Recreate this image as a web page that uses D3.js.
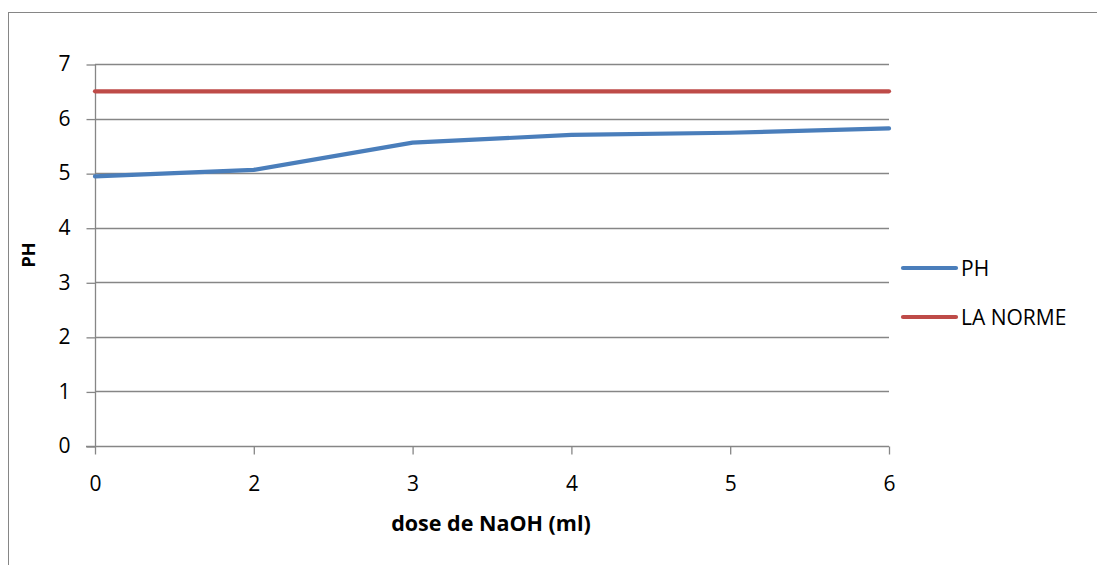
<!DOCTYPE html>
<html>
<head>
<meta charset="utf-8">
<script src="https://cdn.jsdelivr.net/npm/d3@7"></script>
<style>
  html, body { margin: 0; padding: 0; background: #fff; }
  svg { display: block; font-family: "Open Sans", "Liberation Sans", sans-serif; }
</style>
</head>
<body>
<svg id="chart" width="1097" height="565"></svg>
<script>
// Data
const doses = ["0", "2", "3", "4", "5", "6"];
const phValues = [4.94, 5.06, 5.56, 5.70, 5.74, 5.82];
const normeValues = [6.5, 6.5, 6.5, 6.5, 6.5, 6.5];
const yTicks = [0, 1, 2, 3, 4, 5, 6, 7];
const seriesNames = ["PH", "LA NORME"];
const seriesColors = ["#4A7EBB", "#BE4B48"];
const xTitle = "dose de NaOH (ml)";
const yTitle = "PH";

const svg = d3.select("#chart");
const W = 1097, H = 565;
const plot = { left: 95, right: 889, top: 64, bottom: 446 };
const FONT = "Open Sans, sans-serif";

// Outer frame
svg.append("rect")
  .attr("x", 8.5).attr("y", 12.5)
  .attr("width", W + 20).attr("height", H + 20)
  .attr("fill", "none").attr("stroke", "#868686").attr("stroke-width", 1);

const x = d3.scalePoint().domain(doses).range([plot.left, plot.right]);
const y = d3.scaleLinear().domain([0, 7]).range([plot.bottom, plot.top]);

// Gridlines
svg.append("g").selectAll("line").data(yTicks.filter(d => d > 0)).join("line")
  .attr("x1", plot.left).attr("x2", plot.right)
  .attr("y1", d => Math.round(y(d)) + 0.5).attr("y2", d => Math.round(y(d)) + 0.5)
  .attr("stroke", "#868686").attr("stroke-width", 1.3);

// Y axis
const yAxis = svg.append("g")
  .attr("transform", `translate(${plot.left + 0.5},0)`)
  .call(d3.axisLeft(y).tickValues(yTicks).tickSize(9).tickPadding(16).tickFormat(d3.format("d")));
yAxis.select(".domain").attr("stroke", "#868686").attr("stroke-width", 1.3)
  .attr("d", `M0,${plot.top}V${plot.bottom}`);
yAxis.selectAll(".tick line").attr("stroke", "#868686").attr("stroke-width", 1.3)
  .attr("transform", "translate(0,0.5)");
yAxis.selectAll("text").attr("font-size", 21).attr("fill", "#000")
  .attr("font-family", FONT);

// X axis
const xAxis = svg.append("g")
  .attr("transform", `translate(0,${plot.bottom + 0.5})`)
  .call(d3.axisBottom(x).tickSize(8).tickPadding(22));
xAxis.select(".domain").attr("stroke", "#868686").attr("stroke-width", 1.3)
  .attr("d", `M${plot.left - 9},0H${plot.right}`);
xAxis.selectAll(".tick line").attr("stroke", "#868686").attr("stroke-width", 1.3);
xAxis.selectAll("text").attr("font-size", 21).attr("fill", "#000")
  .attr("font-family", FONT);

// Lines
const line = d3.line().x((d, i) => x(doses[i])).y(d => y(d));
[phValues, normeValues].forEach((vals, k) => {
  svg.append("path").datum(vals)
    .attr("d", line)
    .attr("fill", "none")
    .attr("stroke", seriesColors[k])
    .attr("stroke-width", 4.2)
    .attr("stroke-linejoin", "round")
    .attr("stroke-linecap", "round");
});

// Legend
const legY = [268, 317];
seriesNames.forEach((name, k) => {
  svg.append("line")
    .attr("x1", 903).attr("x2", 956)
    .attr("y1", legY[k]).attr("y2", legY[k])
    .attr("stroke", seriesColors[k]).attr("stroke-width", 4.2)
    .attr("stroke-linecap", "round");
  svg.append("text")
    .attr("x", 961).attr("y", legY[k] + 1)
    .attr("dy", "0.35em")
    .attr("font-size", 21).attr("fill", "#000")
    .text(name);
});

// Axis titles
svg.append("text")
  .attr("x", 491).attr("y", 531)
  .attr("text-anchor", "middle")
  .attr("font-size", 21.5).attr("font-weight", "bold").attr("fill", "#000")
  .text(xTitle);

svg.append("text")
  .attr("transform", "translate(35,255) rotate(-90)")
  .attr("text-anchor", "middle")
  .attr("font-size", 18).attr("font-weight", "bold").attr("fill", "#000")
  .text(yTitle);
</script>
</body>
</html>
